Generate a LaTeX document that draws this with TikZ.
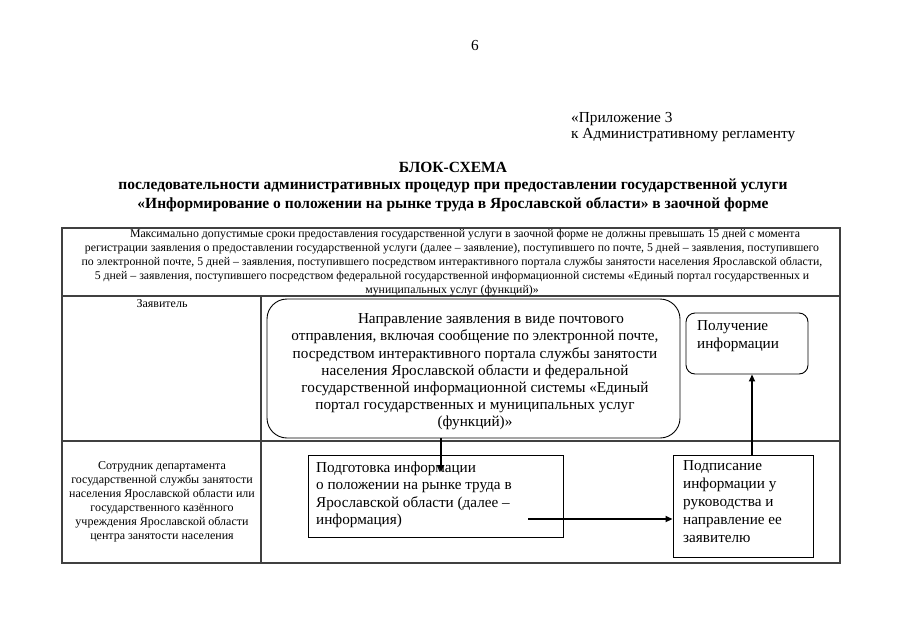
\documentclass[tikz,border=0pt]{standalone}
\usepackage{fontspec}
\setmainfont{Liberation Serif}
\usetikzlibrary{arrows.meta}
\begin{document}
\begin{tikzpicture}[x=1pt,y=-1pt,
  tbl/.style={draw=black!75, line width=1.1pt},
  rbox/.style={draw=black, line width=0.9pt, rounded corners=#1},
  sbox/.style={draw=black, line width=0.9pt},
  arr/.style={draw=black, line width=1.8pt, -{Triangle[length=7pt,width=6pt]}},
  small/.style={font=\fontsize{11.8}{13.8}\selectfont, inner sep=0pt},
  lcol/.style={font=\fontsize{12}{14}\selectfont, inner sep=0pt},
  big/.style={font=\fontsize{15.2}{17.2}\selectfont, inner sep=0pt},
  mid/.style={font=\fontsize{15.3}{16}\selectfont, inner sep=0pt},
  ttl/.style={font=\fontsize{15.5}{19}\selectfont\bfseries, inner sep=0pt}]
\useasboundingbox (0,0) rectangle (905,640);
\fill[white] (0,0) rectangle (905,640);

% page number and header
\node[mid, anchor=base] (pg) at (475,50) {6};
\node[mid, anchor=base west] (app1) at (571,122) {«Приложение 3};
\node[mid, anchor=base west] (app2) at (571,138) {к Административному регламенту};
\node[ttl, anchor=base] (t1) at (453,172) {БЛОК-СХЕМА};
\node[ttl, anchor=base] (t2) at (453,189) {последовательности административных процедур при предоставлении государственной услуги};
\node[ttl, anchor=base] (t3) at (453,208) {«Информирование о положении на рынке труда в Ярославской области» в заочной форме};

% table
\draw[tbl] (62,228) rectangle (840,563);
\draw[tbl] (62,296) -- (840,296);
\draw[tbl] (62,441) -- (840,441);
\draw[tbl] (261,296) -- (261,563);

\node[small, anchor=north, align=center] (hdr) at (452,229.5) {\hspace*{26pt}Максимально допустимые сроки предоставления государственной услуги в заочной форме не должны превышать 15 дней с момента\\
регистрации заявления о предоставлении государственной услуги (далее – заявление), поступившего по почте, 5 дней – заявления, поступившего\\
по электронной почте, 5 дней – заявления, поступившего посредством интерактивного портала службы занятости населения Ярославской области,\\
5 дней – заявления, поступившего посредством федеральной государственной информационной системы «Единый портал государственных и\\
муниципальных услуг (функций)»};

\node[lcol, anchor=north] (zav) at (162,299) {Заявитель};

\node[lcol, anchor=north, align=center] (sotr) at (162,461) {Сотрудник департамента\\
государственной службы занятости\\
населения Ярославской области или\\
государственного казённого\\
учреждения Ярославской области\\
центра занятости населения};

% boxes
\node[rbox=20pt, minimum width=413pt, minimum height=139pt, inner sep=0pt] (b1) at (473.5,368.5) {};
\node[big, align=center] (b1t) at (475,372) {\hspace*{32pt}Направление заявления в виде почтового\\
отправления, включая сообщение по электронной почте,\\
посредством интерактивного портала службы занятости\\
населения Ярославской области и федеральной\\
государственной информационной системы «Единый\\
портал государственных и муниципальных услуг\\
(функций)»};

\node[rbox=9pt, minimum width=122pt, minimum height=61pt, inner sep=0pt] (b2) at (747,343.5) {};
\node[big, anchor=north west, align=left, font=\fontsize{15.2}{18}\selectfont] (b2t) at (697,320) {Получение\\информации};

\node[sbox, minimum width=255pt, minimum height=82pt, inner sep=0pt] (b3) at (435.5,496) {};
\node[big, anchor=north west, align=left] (b3t) at (316,462) {Подготовка информации\\
о положении на рынке труда в\\
Ярославской области (далее –\\
информация)};

\node[sbox, minimum width=140pt, minimum height=102pt, inner sep=0pt] (b4) at (743,506) {};
\node[big, anchor=north west, align=left, font=\fontsize{15.2}{18}\selectfont] (b4t) at (683,460) {Подписание\\
информации у\\
руководства и\\
направление ее\\
заявителю};

% connectors
\coordinate (a1end) at (441,472);
\coordinate (a2start) at (528,519);
\draw[arr] (b1.south -| a1end) -- (a1end);
\draw[arr] (a2start) -- (a2start -| b4.west);
\draw[arr] ([xshift=5pt]b2.south |- b4.north) -- ([xshift=5pt]b2.south);
\end{tikzpicture}
\end{document}
